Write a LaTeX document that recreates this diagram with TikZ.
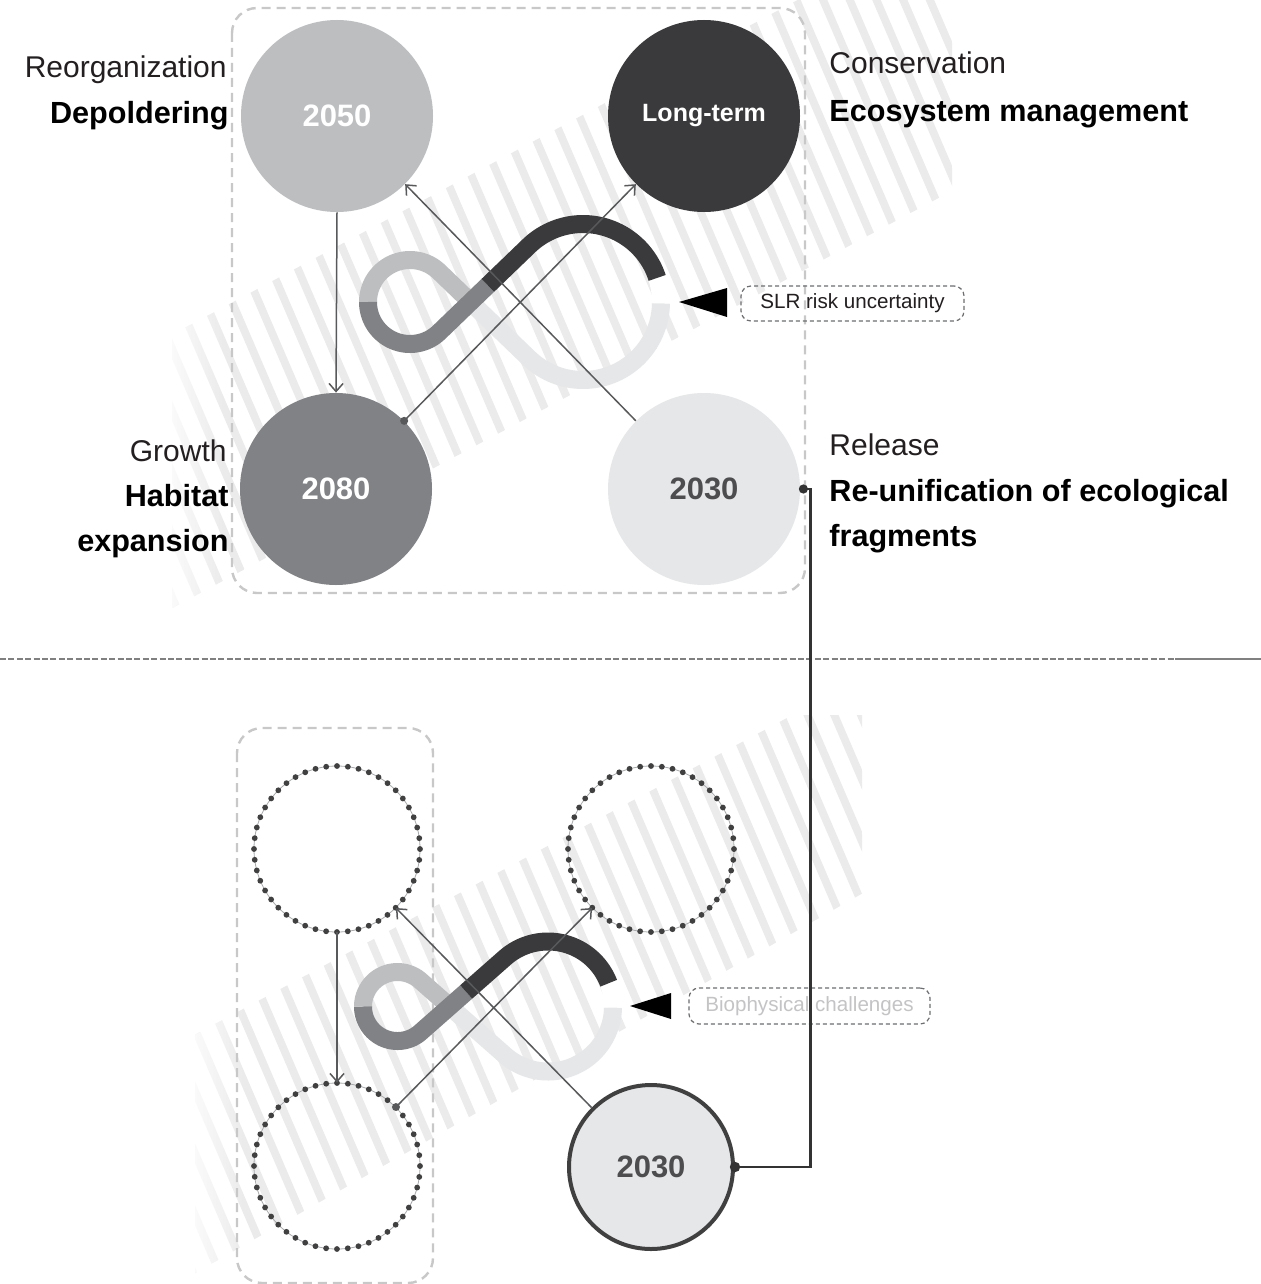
\documentclass[tikz,border=0pt]{standalone}
\usepackage{fontspec}
\setmainfont{Liberation Sans}
\usetikzlibrary{arrows.meta,calc,fadings}
\definecolor{cA}{HTML}{BCBEC0}
\definecolor{cB}{HTML}{3A3A3C}
\definecolor{cC}{HTML}{808285}
\definecolor{cD}{HTML}{E6E7E8}
\definecolor{stripec}{HTML}{EBEBEC}
\definecolor{framec}{HTML}{C8C8C8}
\definecolor{arrc}{HTML}{58595B}
\definecolor{txtc}{HTML}{231F20}
\definecolor{yeardark}{HTML}{4D4D4F}
\definecolor{dotc}{HTML}{404041}
\definecolor{ringc}{HTML}{A7A9AC}
\definecolor{tagc}{HTML}{6D6E71}
\definecolor{bioc}{HTML}{C4C4C6}
\definecolor{sepc}{HTML}{808080}
\definecolor{connc}{HTML}{333333}
\begin{document}
\begin{tikzpicture}[x=0.5pt,y=-0.5pt,
  phase/.style={circle, minimum size=96pt, inner sep=0pt, font=\bfseries\fontsize{15.5}{18}\selectfont},
  lbl/.style={font=\fontsize{15}{17}\selectfont, text=txtc, inner sep=0pt},
  blbl/.style={font=\bfseries\fontsize{15.3}{18}\selectfont, text=black, inner sep=0pt},
  framebox/.style={draw=framec, line width=1.2pt, dash pattern=on 4.5pt off 3pt, rounded corners=12.5pt},
  link/.style={draw=arrc, line width=0.75pt, -{Straight Barb[length=4pt,width=7pt]}},
  ribbon/.style={line width=9pt, line cap=butt, line join=round},
  hatch/.style={draw=stripec, line width=3.9pt},
  tagbox/.style={draw=tagc, line width=0.6pt, dash pattern=on 2pt off 1.5pt, rounded corners=5pt, inner sep=0pt, font=\fontsize{10.3}{12}\selectfont},
  ringnode/.style={circle, minimum size=83pt, inner sep=0pt, draw=ringc, line width=0.4pt},
  dotring/.style={draw=dotc, line width=2.9pt, line cap=round, dash pattern=on 0pt off 5.432pt},
  conn/.style={draw=connc, line width=1.4pt},
  seps/.style={draw=sepc, line width=1pt}
]
\fill[white] (0,0) rectangle (1261,1284);
\useasboundingbox (0,0) rectangle (1261,1284);

% ---------- top hatch ----------
\begin{scope}
\clip (172,334.7) -- (797.6,0) -- (952,0) -- (952,190.8) -- (172,608.1) -- cycle;
\foreach \k in {0,...,46} { \draw[hatch] ({-120+\k*26.7},-20) -- ({-120+\k*26.7+0.43*700},680); }
\fill[white, path fading=east, opacity=0.8] (170,300) rectangle (225,620);
\end{scope}

% ---------- top frame ----------
\draw[framebox] (232,8) rectangle (805,593);

% ---------- top infinity ----------
\draw[ribbon, cD] plot[domain=1:133.92, samples=60] ({583+78*cos(\x)},{302+78*sin(\x)}) -- (470.55,302);
\draw[ribbon, white] plot[domain=-18:1, samples=10] ({583+78*cos(\x)},{302+78*sin(\x)});
\draw[ribbon, cA] (470.55,302) -- plot[domain=-46.08:-180, samples=50] ({410+42*cos(\x)},{302+42*sin(\x)});
\draw[ribbon, cC] plot[domain=180:46.08, samples=50] ({410+42*cos(\x)},{302+42*sin(\x)}) -- (487.84,285.35);
\draw[ribbon, cB] (487.84,285.35) -- plot[domain=-133.92:-18, samples=60] ({583+78*cos(\x)},{302+78*sin(\x)});

% ---------- top circles ----------
\node[phase, fill=cA, text=white] (c2050) at (337,116) {2050};
\node[phase, fill=cB, text=white, font=\bfseries\fontsize{12.5}{15}\selectfont] (cLT) at (704,116) {Long-term};
\node[phase, fill=cC, text=white] (c2080) at (336,489) {2080};
\node[phase, fill=cD, text=yeardark] (c2030) at (704,489) {2030};

% ---------- top arrows ----------
\draw[link] (c2050.south) -- (c2080.north);
\draw[link] (c2080.45) -- (cLT.225);
\fill[arrc] (c2080.45) circle (2pt);
\draw[link] (c2030.135) -- (c2050.-45);

% ---------- top tag ----------
\fill[black] (679,302) -- (727,288) -- (727,317) -- cycle;
\node[tagbox, text=txtc, minimum width=111.5pt, minimum height=17.5pt] (slr) at (852.5,303.5) {SLR risk uncertainty};

% ---------- top labels ----------
\node[lbl, anchor=base east] (l1) at (227,78) {Reorganization};
\node[blbl, anchor=base east] (l2) at (229,124) {Depoldering};
\node[lbl, anchor=base west] (l3) at (829,74) {Conservation};
\node[blbl, anchor=base west] (l4) at (829,121) {Ecosystem management};
\node[lbl, anchor=base east] (l5) at (227,461) {Growth};
\node[blbl, anchor=base east] (l6) at (229,506) {Habitat};
\node[blbl, anchor=base east] (l7) at (229,551) {expansion};
\node[lbl, anchor=base west] (l8) at (829,455) {Release};
\node[blbl, anchor=base west] (l9) at (829,501) {Re-unification of ecological};
\node[blbl, anchor=base west] (l10) at (829,546) {fragments};

% ---------- separator ----------
\coordinate (s0) at (0,659);
\coordinate (s1) at (1175,659);
\coordinate (s2) at (1261,659);
\draw[seps, dash pattern=on 3pt off 1.2pt] (s0) -- (s1);
\draw[seps] (s1) -- (s2);

% ---------- bottom hatch ----------
\begin{scope}
\clip (195,1034.7) -- (792.5,715) -- (862,715) -- (862,893.6) -- (195,1273) -- cycle;
\foreach \k in {0,...,38} { \draw[hatch] ({-80+\k*26.7},700) -- ({-80+\k*26.7+0.43*600},1300); }
\fill[white, path fading=east, opacity=0.8] (193,1000) rectangle (245,1290);
\end{scope}

% ---------- bottom frame ----------
\draw[framebox] (237,728) rectangle (433,1283);

% ---------- bottom infinity ----------
\draw[ribbon, cD] plot[domain=1:131.39, samples=60] ({548+65*cos(\x)},{1006.5+65*sin(\x)}) -- (449.68,1006.5);
\draw[ribbon, white] plot[domain=-21:1, samples=10] ({548+65*cos(\x)},{1006.5+65*sin(\x)});
\draw[ribbon, cA] (449.68,1006.5) -- plot[domain=-48.61:-180, samples=50] ({397.5+34.5*cos(\x)},{1006.5+34.5*sin(\x)});
\draw[ribbon, cC] plot[domain=180:48.61, samples=50] ({397.5+34.5*cos(\x)},{1006.5+34.5*sin(\x)}) -- (466.18,991.96);
\draw[ribbon, cB] (466.18,991.96) -- plot[domain=-131.39:-21, samples=60] ({548+65*cos(\x)},{1006.5+65*sin(\x)});

% ---------- bottom circles ----------
\node[ringnode] (d1) at (337,849) {};
\node[ringnode] (d2) at (651,849) {};
\node[ringnode] (d3) at (337,1166) {};
\draw[dotring] (d1.center) circle[radius=41.5pt];
\draw[dotring] (d2.center) circle[radius=41.5pt];
\draw[dotring] (d3.center) circle[radius=41.5pt];
\node[circle, minimum size=82pt, inner sep=0pt, draw=dotc, line width=2pt, fill=cD, text=yeardark, font=\bfseries\fontsize{15.5}{18}\selectfont] (b2030) at (651,1167) {2030};

% ---------- bottom arrows ----------
\draw[link] (d1.south) -- (d3.north);
\draw[link] (d3.45) -- (d2.225);
\fill[arrc] (d3.45) circle (2pt);
\draw[link] (b2030.135) -- (d1.-45);

% ---------- bottom tag ----------
\fill[black] (630,1006) -- (671,993) -- (671,1019) -- cycle;
\node[tagbox, text=bioc, minimum width=120.5pt, minimum height=18pt] (bio) at (809.5,1006) {Biophysical challenges};

% ---------- connector ----------
\draw[conn] (c2030.east) -- ++(10,0) |- (b2030.east);
\fill[connc] ($(c2030.east)+(3,0)$) circle (2.3pt);
\fill[connc] (b2030.east) circle (2.6pt);
\end{tikzpicture}
\end{document}
